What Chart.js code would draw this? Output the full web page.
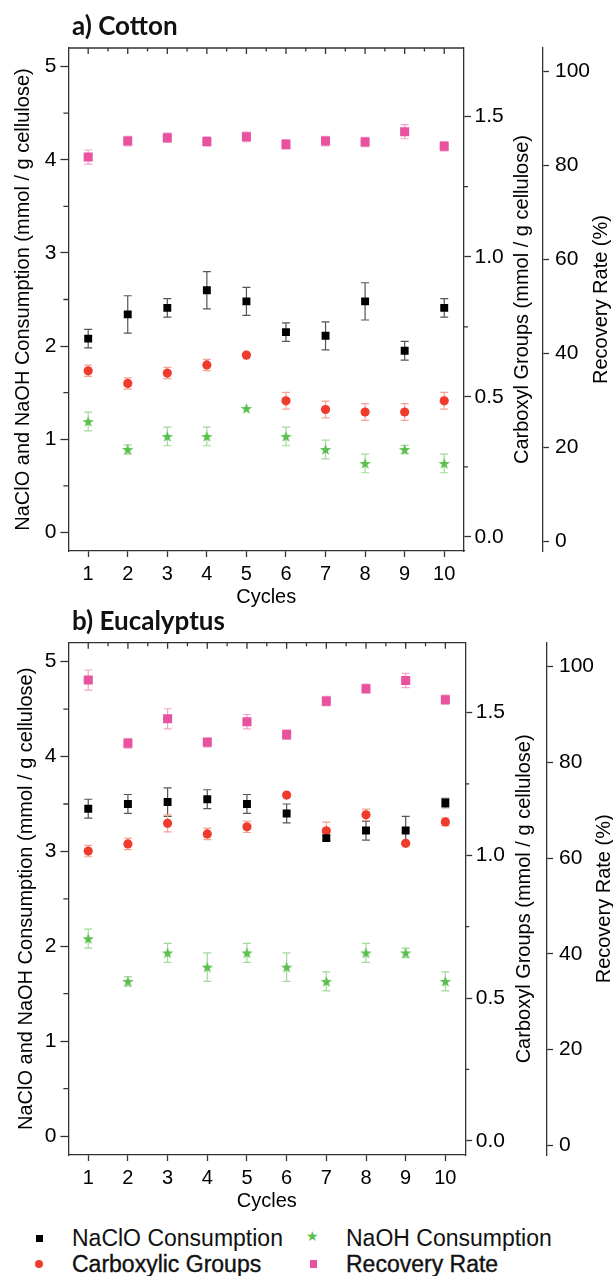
<!DOCTYPE html>
<html>
<head>
<meta charset="utf-8">
<script src="https://cdn.jsdelivr.net/npm/chart.js@4/dist/chart.umd.min.js"></script>
<style>
  body{margin:0;background:#fff;width:613px;height:1276px;position:relative;overflow:hidden;font-family:"Liberation Sans",Arial,sans-serif;}
  canvas{position:absolute;left:0;}
  #cotton{top:0;}
  #euca{top:600px;}
  .ttl{position:absolute;left:72px;font:bold 26px Lato,"Open Sans",sans-serif;line-height:26px;color:#111;white-space:nowrap;z-index:2;}
  .lg{position:absolute;font-size:23px;line-height:22px;color:#111;white-space:nowrap;}
  .bold{-webkit-text-stroke:0.35px #111;}
  .mk{position:absolute;}
</style>
</head>
<body>
<div class="ttl" style="top:12px">a) Cotton</div>
<div class="ttl" style="top:607px">b) Eucalyptus</div>
<canvas id="cotton" width="613" height="610"></canvas>
<canvas id="euca" width="613" height="614"></canvas>

<div class="mk" style="left:36px;top:1235px;width:7px;height:7px;background:#000"></div>
<div class="lg" style="left:72px;top:1227px">NaClO Consumption</div>
<div class="mk" style="left:306px;top:1229px;font-size:14px;line-height:14px;color:#5bbf4f;font-family:'DejaVu Sans'">★</div>
<div class="lg" style="left:346px;top:1227px">NaOH Consumption</div>
<div class="mk" style="left:35px;top:1260px;width:8px;height:8px;border-radius:50%;background:#ef3b2c"></div>
<div class="lg bold" style="left:72px;top:1253px">Carboxylic Groups</div>
<div class="mk" style="left:310px;top:1260px;width:7px;height:8px;background:#e8529f"></div>
<div class="lg bold" style="left:346px;top:1253px">Recovery Rate</div>

<script>
  var cycles = [1,2,3,4,5,6,7,8,9,10];

  // a) Cotton
  var cottonNaClO       = [2.08,2.34,2.41,2.60,2.48,2.15,2.11,2.48,1.95,2.41];
  var cottonNaClOErr    = [0.10,0.20,0.10,0.20,0.15,0.10,0.15,0.20,0.10,0.10];
  var cottonNaOH        = [1.19,0.89,1.03,1.03,1.33,1.03,0.89,0.74,0.89,0.74];
  var cottonNaOHErr     = [0.10,0.05,0.10,0.10,0.00,0.10,0.10,0.10,0.045,0.10];
  var cottonCOOH        = [0.593,0.548,0.585,0.614,0.649,0.486,0.455,0.446,0.446,0.486];
  var cottonCOOHErr     = [0.02,0.02,0.02,0.02,0.00,0.03,0.03,0.03,0.03,0.03];
  var cottonRecovery    = [81.8,85.2,85.9,85.1,86.1,84.5,85.2,85.0,87.2,84.1];
  var cottonRecoveryErr = [1.5,1.0,1.0,1.0,1.0,1.0,1.0,1.0,1.5,1.0];

  // b) Eucalyptus
  var eucaNaClO       = [3.45,3.50,3.52,3.55,3.50,3.40,3.14,3.22,3.22,3.51];
  var eucaNaClOErr    = [0.10,0.10,0.15,0.10,0.10,0.10,0.03,0.10,0.15,0.05];
  var eucaNaOH        = [2.08,1.63,1.93,1.78,1.93,1.78,1.63,1.93,1.93,1.63];
  var eucaNaOHErr     = [0.10,0.05,0.10,0.15,0.10,0.15,0.10,0.10,0.05,0.10];
  var eucaCOOH        = [1.015,1.040,1.112,1.075,1.100,1.211,1.086,1.142,1.042,1.117];
  var eucaCOOHErr     = [0.02,0.02,0.03,0.02,0.02,0.005,0.03,0.02,0.0,0.013];
  var eucaRecovery    = [97.2,84.0,89.1,84.2,88.5,85.8,92.8,95.4,97.1,93.1];
  var eucaRecoveryErr = [2.1,1.0,2.1,0.95,1.5,1.0,1.0,0.95,1.5,0.95];

  Chart.defaults.font.family = '"Liberation Sans", Arial, sans-serif';
  Chart.defaults.color = '#000';

  function pts(vals){
    return vals.map(function(v,i){ return {x:cycles[i], y:v}; });
  }

  // filled five point star for NaOH
  var starImg = document.createElement('canvas');
  starImg.width = 13; starImg.height = 13;
  (function(){
    var c = starImg.getContext('2d');
    c.fillStyle = '#5bbf4f';
    c.beginPath();
    for (var k = 0; k < 10; k++) {
      var r = k % 2 ? 2.4 : 6;
      var a = -Math.PI/2 + k*Math.PI/5;
      var px = 6.5 + r*Math.cos(a), py = 7 + r*Math.sin(a);
      if (k === 0) c.moveTo(px, py); else c.lineTo(px, py);
    }
    c.closePath();
    c.fill();
  })();

  var errorBars = {
    id:'errorBars',
    beforeDatasetsDraw: function(chart){
      var ctx = chart.ctx;
      chart.data.datasets.forEach(function(ds, i){
        if (!ds.errors) return;
        var meta = chart.getDatasetMeta(i);
        var ys = chart.scales[ds.yAxisID];
        ctx.save();
        ctx.strokeStyle = ds.errColor;
        ctx.lineWidth = 1.2;
        meta.data.forEach(function(p, j){
          var e = ds.errors[j];
          if (!e) return;
          var v = ds.data[j].y;
          var y1 = ys.getPixelForValue(v + e), y2 = ys.getPixelForValue(v - e);
          ctx.beginPath();
          ctx.moveTo(p.x, y1); ctx.lineTo(p.x, y2);
          ctx.moveTo(p.x - 4, y1); ctx.lineTo(p.x + 4, y1);
          ctx.moveTo(p.x - 4, y2); ctx.lineTo(p.x + 4, y2);
          ctx.stroke();
        });
        ctx.restore();
      });
    }
  };

  // top border, inward top ticks, minor ticks, right-hand titles
  var frame = {
    id:'frame',
    afterDraw: function(chart, args, o){
      var ctx = chart.ctx, a = chart.chartArea, xs = chart.scales.x;
      var yl = chart.scales.y, yc = chart.scales.yc;
      ctx.save();
      ctx.strokeStyle = '#333';
      ctx.lineWidth = 1.3;
      ctx.beginPath();
      ctx.moveTo(a.left, a.top); ctx.lineTo(a.right, a.top);
      for (var v = 1; v <= 10; v += 0.5) {
        var px = xs.getPixelForValue(v);
        ctx.moveTo(px, a.top); ctx.lineTo(px, a.top + (v % 1 ? 3.5 : 6));
      }
      yl.ticks.forEach(function(t){
        if (t.value % 1) {
          var py = yl.getPixelForValue(t.value);
          ctx.moveTo(a.left - 5, py); ctx.lineTo(a.left, py);
        }
      });
      yc.ticks.forEach(function(t){
        if (Math.abs(t.value*2 - Math.round(t.value*2)) > 1e-6) {
          var py = yc.getPixelForValue(t.value);
          ctx.moveTo(a.right, py); ctx.lineTo(a.right + 4, py);
        }
      });
      ctx.stroke();

      ctx.fillStyle = '#000';
      ctx.font = '20px "Liberation Sans", Arial, sans-serif';
      ctx.textAlign = 'center';
      ctx.textBaseline = 'middle';
      var cy = (a.top + a.bottom) / 2;
      [[o.cTitleX, 'Carboxyl Groups (mmol / g cellulose)'], [o.rTitleX, 'Recovery Rate (%)']].forEach(function(t){
        ctx.save();
        ctx.translate(t[0], cy);
        ctx.rotate(-Math.PI/2);
        ctx.fillText(t[1], 0, 0);
        ctx.restore();
      });
      ctx.restore();
    }
  };

  function panel(id, p){
    return new Chart(document.getElementById(id), {
      type:'scatter',
      data:{
        datasets:[
          {label:'Recovery Rate', data:pts(p.rec), errors:p.recErr, errColor:'#f2a5cb', yAxisID:'yr',
           pointStyle:'rect', pointRadius:6.4, backgroundColor:'#e8529f', borderWidth:0},
          {label:'NaClO Consumption', data:pts(p.naclo), errors:p.nacloErr, errColor:'#555', yAxisID:'y',
           pointStyle:'rect', pointRadius:5.6, backgroundColor:'#000', borderWidth:0},
          {label:'Carboxylic Groups', data:pts(p.cooh), errors:p.coohErr, errColor:'#f4a497', yAxisID:'yc',
           pointStyle:'circle', pointRadius:4.6, backgroundColor:'#ef3b2c', borderWidth:0},
          {label:'NaOH Consumption', data:pts(p.naoh), errors:p.naohErr, errColor:'#a3d99b', yAxisID:'y',
           pointStyle:starImg, pointRadius:6, backgroundColor:'#5bbf4f', borderWidth:0}
        ]
      },
      options:{
        responsive:false,
        animation:false,
        layout:{padding:{top:p.top, left:0, right:0, bottom:0}, autoPadding:false},
        plugins:{
          legend:{display:false},
          tooltip:{enabled:false},
          frame:{cTitleX:p.cTitleX, rTitleX:p.rTitleX}
        },
        scales:{
          x:{
            type:'linear', position:'bottom', min:0.5, max:10.5,
            afterFit:function(s){ s.height = 59; },
            afterBuildTicks:function(s){ s.ticks = cycles.map(function(c){ return {value:c}; }); },
            ticks:{autoSkip:false, maxRotation:0, minRotation:0, padding:5, font:{size:20}, color:'#000'},
            grid:{drawOnChartArea:false, drawTicks:true, tickLength:6, tickColor:'#333', tickWidth:1.3},
            border:{display:true, color:'#333', width:1.3},
            title:{display:true, text:'Cycles', font:{size:20}, color:'#000', padding:{top:0, bottom:1}}
          },
          y:{
            type:'linear', position:'left', min:-0.2, max:5.2,
            afterFit:function(s){ s.width = 68.4; },
            ticks:{stepSize:0.5, includeBounds:false, autoSkip:false, padding:4, font:{size:21}, color:'#000',
                   callback:function(v){ return v % 1 === 0 ? v : ''; }},
            grid:{drawOnChartArea:false, tickLength:8, tickWidth:1.3,
                  tickColor:function(c){ return c.tick && c.tick.value % 1 === 0 ? '#333' : 'rgba(0,0,0,0)'; }},
            border:{display:true, color:'#333', width:1.3},
            title:{display:true, text:'NaClO and NaOH Consumption (mmol / g cellulose)', font:{size:20}, color:'#000',
                   padding:{top:p.lTitlePad, bottom:0}}
          },
          yc:{
            type:'linear', position:'right', weight:0, min:-0.05, max:1.745,
            afterFit:function(s){ s.width = p.carbW; },
            ticks:{stepSize:0.25, includeBounds:false, autoSkip:false, padding:3.5, font:{size:21}, color:'#000',
                   callback:function(v){ return Math.abs(v*2 - Math.round(v*2)) < 1e-6 ? v.toFixed(1) : ''; }},
            grid:{drawOnChartArea:false, tickLength:7, tickWidth:1.3,
                  tickColor:function(c){ return c.tick && Math.abs(c.tick.value*2 - Math.round(c.tick.value*2)) < 1e-6 ? '#333' : 'rgba(0,0,0,0)'; }},
            border:{display:true, color:'#333', width:1.3}
          },
          yr:{
            type:'linear', position:'right', weight:1, min:-2, max:105,
            afterFit:function(s){ s.width = p.recW; },
            ticks:{stepSize:20, includeBounds:false, autoSkip:false, padding:6, font:{size:21}, color:'#000'},
            grid:{drawOnChartArea:false, tickLength:6, tickWidth:1.3, tickColor:'#333'},
            border:{display:true, color:'#333', width:1.3}
          }
        }
      },
      plugins:[errorBars, frame]
    });
  }

  panel('cotton', {
    naclo:cottonNaClO, nacloErr:cottonNaClOErr, naoh:cottonNaOH, naohErr:cottonNaOHErr,
    cooh:cottonCOOH, coohErr:cottonCOOHErr, rec:cottonRecovery, recErr:cottonRecoveryErr,
    top:48, carbW:79, recW:70, cTitleX:522, rTitleX:601, lTitlePad:11.5
  });

  panel('euca', {
    naclo:eucaNaClO, nacloErr:eucaNaClOErr, naoh:eucaNaOH, naohErr:eucaNaOHErr,
    cooh:eucaCOOH, coohErr:eucaCOOHErr, rec:eucaRecovery, recErr:eucaRecoveryErr,
    top:42.7, carbW:81.8, recW:66, cTitleX:524, rTitleX:604, lTitlePad:14.5
  });
</script>
</body>
</html>
